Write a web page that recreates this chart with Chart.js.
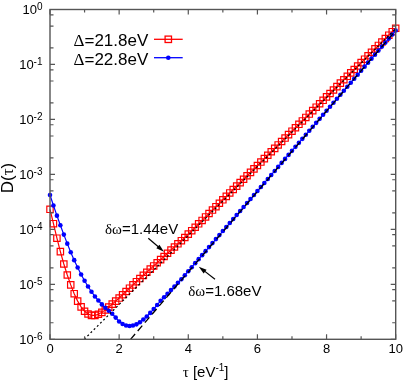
<!DOCTYPE html>
<html>
<head>
<meta charset="utf-8">
<script src="https://cdn.jsdelivr.net/npm/chart.js@4.4.1/dist/chart.umd.min.js"></script>
<style>
  html, body { margin: 0; padding: 0; background: #fff; }
  canvas { display: block; }
</style>
</head>
<body>
<canvas id="plot" width="403" height="382"></canvas>
<script>
// tau grid (eV^-1)
const tau = [
  0, 0.1, 0.2, 0.3, 0.4, 0.5, 0.6, 0.7, 0.8, 0.9,
  1, 1.1, 1.2, 1.3, 1.4, 1.5, 1.6, 1.7, 1.8, 1.9,
  2, 2.1, 2.2, 2.3, 2.4, 2.5, 2.6, 2.7, 2.8, 2.9,
  3, 3.1, 3.2, 3.3, 3.4, 3.5, 3.6, 3.7, 3.8, 3.9,
  4, 4.1, 4.2, 4.3, 4.4, 4.5, 4.6, 4.7, 4.8, 4.9,
  5, 5.1, 5.2, 5.3, 5.4, 5.5, 5.6, 5.7, 5.8, 5.9,
  6, 6.1, 6.2, 6.3, 6.4, 6.5, 6.6, 6.7, 6.8, 6.9,
  7, 7.1, 7.2, 7.3, 7.4, 7.5, 7.6, 7.7, 7.8, 7.9,
  8, 8.1, 8.2, 8.3, 8.4, 8.5, 8.6, 8.7, 8.8, 8.9,
  9, 9.1, 9.2, 9.3, 9.4, 9.5, 9.6, 9.7, 9.8, 9.9,
  10
];

// log10 D(tau)
const logD_218 = [
  -3.635, -3.897, -4.160, -4.405, -4.630, -4.830, -5.010, -5.170, -5.305, -5.410,
  -5.490, -5.540, -5.565, -5.565, -5.545, -5.510, -5.465, -5.415, -5.360, -5.305,
  -5.250, -5.190, -5.130, -5.070, -5.010, -4.952, -4.895, -4.837, -4.780, -4.723,
  -4.665, -4.608, -4.550, -4.493, -4.435, -4.378, -4.321, -4.263, -4.206, -4.148,
  -4.086, -4.024, -3.961, -3.899, -3.837, -3.774, -3.712, -3.649, -3.587, -3.525,
  -3.462, -3.400, -3.337, -3.275, -3.213, -3.150, -3.088, -3.025, -2.963, -2.900,
  -2.838, -2.776, -2.713, -2.651, -2.588, -2.526, -2.464, -2.401, -2.339, -2.276,
  -2.214, -2.152, -2.089, -2.027, -1.964, -1.902, -1.840, -1.777, -1.715, -1.652,
  -1.590, -1.528, -1.465, -1.403, -1.340, -1.278, -1.216, -1.153, -1.091, -1.028,
  -0.966, -0.904, -0.841, -0.779, -0.716, -0.654, -0.592, -0.529, -0.467, -0.404,
  -0.342
];

const logD_228 = [
  -3.375, -3.565, -3.750, -3.925, -4.095, -4.260, -4.415, -4.560, -4.695, -4.820,
  -4.935, -5.040, -5.135, -5.220, -5.295, -5.365, -5.425, -5.480, -5.535, -5.605,
  -5.675, -5.722, -5.748, -5.758, -5.748, -5.728, -5.690, -5.640, -5.585, -5.520,
  -5.450, -5.375, -5.300, -5.235, -5.170, -5.105, -5.040, -4.972, -4.907, -4.834,
  -4.761, -4.688, -4.615, -4.542, -4.469, -4.396, -4.323, -4.250, -4.177, -4.104,
  -4.031, -3.958, -3.885, -3.812, -3.739, -3.666, -3.594, -3.521, -3.448, -3.375,
  -3.302, -3.229, -3.156, -3.083, -3.010, -2.937, -2.864, -2.791, -2.718, -2.645,
  -2.572, -2.499, -2.426, -2.353, -2.280, -2.207, -2.134, -2.062, -1.989, -1.916,
  -1.843, -1.770, -1.697, -1.624, -1.551, -1.478, -1.405, -1.332, -1.259, -1.186,
  -1.113, -1.040, -0.967, -0.894, -0.821, -0.748, -0.675, -0.602, -0.529, -0.456,
  -0.383
];

// asymptotic fits (end points)
const fitTau144 = [0.99, 10];
const fitLog144 = [-6, -0.35];
const fitTau168 = [2.33, 10];
const fitLog168 = [-6, -0.383];

// axis ticks
const xMajor = [0, 2, 4, 6, 8, 10];
const xMinor = [1, 3, 5, 7, 9];
const yTickExp = [0, -1, -2, -3, -4, -5, -6];
const yMinorMult = [2, 5, 8];

const seriesLabels = ['21.8eV', '22.8eV'];
const noteLabels = ['=1.44eV', '=1.68eV'];

const SANS = '"Liberation Sans", Arial, Helvetica, sans-serif';
const GREEK = '"Liberation Serif", "Times New Roman", serif';
const RED = '#ff0000';
const BLUE = '#0000ff';

function toPoints(xs, logs) {
  return xs.map((x, i) => ({ x: x, y: Math.pow(10, logs[i]) }));
}

function drawParts(ctx, parts, x, y, align) {
  let total = 0;
  parts.forEach(p => { ctx.font = p.font; p.w = ctx.measureText(p.text).width; total += p.w; });
  let cx = align === 'right' ? x - total : align === 'center' ? x - total / 2 : x;
  ctx.textAlign = 'left';
  ctx.textBaseline = 'alphabetic';
  parts.forEach(p => {
    ctx.font = p.font;
    ctx.fillText(p.text, cx, y + (p.dy || 0));
    cx += p.w;
  });
}

function arrow(ctx, x1, y1, x2, y2) {
  const a = Math.atan2(y2 - y1, x2 - x1);
  const len = 8, hw = 2.4;
  ctx.beginPath();
  ctx.moveTo(x1, y1);
  ctx.lineTo(x2 - Math.cos(a) * len * 0.6, y2 - Math.sin(a) * len * 0.6);
  ctx.stroke();
  ctx.beginPath();
  ctx.moveTo(x2, y2);
  ctx.lineTo(x2 - Math.cos(a) * len - Math.sin(a) * hw, y2 - Math.sin(a) * len + Math.cos(a) * hw);
  ctx.lineTo(x2 - Math.cos(a) * len + Math.sin(a) * hw, y2 - Math.sin(a) * len - Math.cos(a) * hw);
  ctx.closePath();
  ctx.fill();
}

// annotation anchors in data units (tau, log10 D)
const notes = [
  { text: noteLabels[0], at: [1.59, -4.090], from: [2.843, -4.162], to: [3.297, -4.406] },
  { text: noteLabels[1], at: [3.998, -5.212], from: [4.773, -4.908], to: [4.304, -4.679] }
];

const gnuplotLook = {
  id: 'gnuplotLook',
  beforeDraw(chart) {
    const ctx = chart.ctx;
    ctx.save();
    ctx.fillStyle = '#fff';
    ctx.fillRect(0, 0, chart.width, chart.height);
    ctx.restore();
  },
  afterDraw(chart) {
    const ctx = chart.ctx;
    const { left, right, top, bottom } = chart.chartArea;
    const xs = chart.scales.x, ys = chart.scales.y;
    ctx.save();

    // frame + inward ticks on all sides
    ctx.strokeStyle = '#555';
    ctx.lineWidth = 1.4;
    ctx.strokeRect(left, top, right - left, bottom - top);
    ctx.lineWidth = 1.2;
    const xt = (v, len) => {
      const px = xs.getPixelForValue(v);
      ctx.beginPath();
      ctx.moveTo(px, bottom); ctx.lineTo(px, bottom - len);
      ctx.moveTo(px, top); ctx.lineTo(px, top + len);
      ctx.stroke();
    };
    const yt = (v, len) => {
      const py = ys.getPixelForValue(v);
      ctx.beginPath();
      ctx.moveTo(left, py); ctx.lineTo(left + len, py);
      ctx.moveTo(right, py); ctx.lineTo(right - len, py);
      ctx.stroke();
    };
    xMajor.forEach(v => xt(v, 5));
    xMinor.forEach(v => xt(v, 3));
    yTickExp.forEach(e => yt(Math.pow(10, e), 5));
    yTickExp.forEach(e => {
      yMinorMult.forEach(m => {
        const v = m * Math.pow(10, e - 1);
        if (v > 1e-6 && v < 1) yt(v, 3.5);
      });
    });

    // tick labels
    ctx.fillStyle = '#000';
    const tickFont = '13px ' + SANS;
    const supFont = '10px ' + SANS;
    yTickExp.forEach(e => {
      const py = ys.getPixelForValue(Math.pow(10, e));
      drawParts(ctx, [
        { text: '10', font: tickFont },
        { text: String(e), font: supFont, dy: -4 }
      ], left - 7.5, py + 4.7, 'right');
    });
    xMajor.forEach(v => {
      drawParts(ctx, [{ text: String(v), font: tickFont }], xs.getPixelForValue(v), bottom + 14, 'center');
    });

    // axis titles
    drawParts(ctx, [
      { text: 'τ', font: '15px ' + GREEK },
      { text: ' [eV', font: '15px ' + SANS },
      { text: '-1', font: '10px ' + SANS, dy: -6 },
      { text: ']', font: '15px ' + SANS }
    ], xs.getPixelForValue(4.5), bottom + 38, 'center');
    ctx.save();
    ctx.translate(left - 37, (top + bottom) / 2 + 3.6);
    ctx.rotate(-Math.PI / 2);
    drawParts(ctx, [
      { text: 'D(', font: '17px ' + SANS },
      { text: 'τ', font: '17px ' + GREEK },
      { text: ')', font: '17px ' + SANS }
    ], 0, 0, 'center');
    ctx.restore();

    // key
    const rows = [
      { label: seriesLabels[0], color: RED, style: 'rect', base: 36.5, line: 29.8 },
      { label: seriesLabels[1], color: BLUE, style: 'circle', base: 55.5, line: 48.2 }
    ];
    rows.forEach(r => {
      ctx.fillStyle = '#000';
      drawParts(ctx, [
        { text: 'Δ', font: '17px ' + GREEK },
        { text: '=' + r.label, font: '17px ' + SANS }
      ], left + 98.3, top + r.base, 'right');
      const ly = top + r.line;
      ctx.strokeStyle = r.color;
      ctx.lineWidth = 1.3;
      ctx.beginPath();
      ctx.moveTo(left + 104, ly); ctx.lineTo(left + 132.7, ly);
      ctx.stroke();
      const mx = left + 118.3;
      if (r.style === 'rect') {
        ctx.strokeRect(mx - 3.2, ly - 3.2, 6.4, 6.4);
      } else {
        ctx.fillStyle = r.color;
        ctx.beginPath();
        ctx.arc(mx, ly, 2.3, 0, Math.PI * 2);
        ctx.fill();
      }
    });

    // annotations
    ctx.fillStyle = '#000';
    ctx.strokeStyle = '#000';
    ctx.lineWidth = 1.2;
    notes.forEach(n => {
      const tx = xs.getPixelForValue(n.at[0]);
      const ty = ys.getPixelForValue(Math.pow(10, n.at[1]));
      drawParts(ctx, [
        { text: 'δω', font: '15px ' + GREEK },
        { text: n.text, font: '15px ' + SANS }
      ], tx, ty, 'left');
      arrow(ctx,
        xs.getPixelForValue(n.from[0]), ys.getPixelForValue(Math.pow(10, n.from[1])),
        xs.getPixelForValue(n.to[0]), ys.getPixelForValue(Math.pow(10, n.to[1])));
    });

    ctx.restore();
  }
};

const ctx = document.getElementById('plot').getContext('2d');
const chart = new Chart(ctx, {
  type: 'line',
  data: {
    datasets: [
      {
        label: 'fit 1.44',
        data: toPoints(fitTau144, fitLog144),
        borderColor: '#000',
        borderWidth: 1.2,
        borderDash: [2, 2.5],
        pointRadius: 0,
        order: 0
      },
      {
        label: 'fit 1.68',
        data: toPoints(fitTau168, fitLog168),
        borderColor: '#000',
        borderWidth: 1.3,
        borderDash: [7, 4],
        pointRadius: 0,
        order: 0
      },
      {
        label: 'Δ=' + seriesLabels[0],
        data: toPoints(tau, logD_218),
        borderColor: RED,
        borderWidth: 1.2,
        pointStyle: 'rect',
        pointRadius: 4.5,
        pointBorderWidth: 1.2,
        pointBorderColor: RED,
        pointBackgroundColor: 'rgba(255,255,255,0)',
        clip: false,
        order: 2
      },
      {
        label: 'Δ=' + seriesLabels[1],
        data: toPoints(tau, logD_228),
        borderColor: BLUE,
        borderWidth: 1.2,
        pointStyle: 'circle',
        pointRadius: 2.3,
        pointBorderWidth: 0,
        pointBackgroundColor: BLUE,
        clip: false,
        order: 1
      }
    ]
  },
  options: {
    responsive: false,
    animation: false,
    devicePixelRatio: 1,
    layout: { padding: { top: 9.5, right: 7.3, left: 0, bottom: 0 } },
    plugins: { legend: { display: false }, tooltip: { enabled: false } },
    scales: {
      x: {
        type: 'linear', min: 0, max: 10,
        ticks: { display: false },
        grid: { display: false },
        border: { display: false },
        afterFit: s => { s.height = 42.7; }
      },
      y: {
        type: 'logarithmic', min: 1e-6, max: 1,
        ticks: { display: false },
        grid: { display: false },
        border: { display: false },
        afterFit: s => { s.width = 50; }
      }
    }
  },
  plugins: [gnuplotLook]
});
</script>
</body>
</html>
